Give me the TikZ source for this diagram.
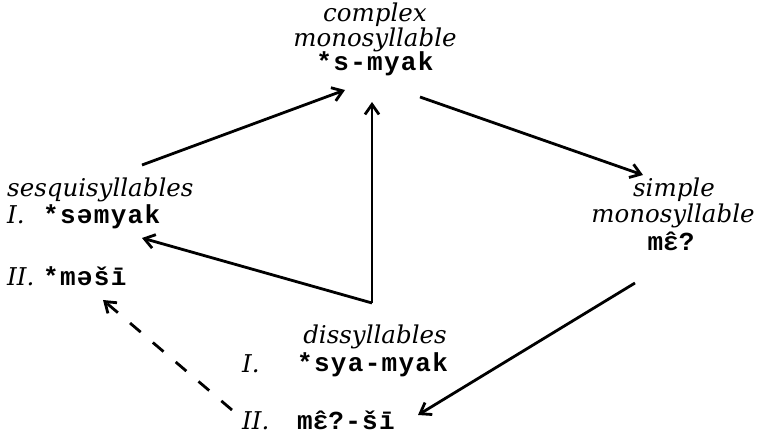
\documentclass[tikz,border=0pt]{standalone}
\usepackage{fontspec}
\setmainfont{DejaVu Serif}
\newfontfamily\typefont[LetterSpace=5]{Liberation Mono}
\usepackage{tikz}
\usetikzlibrary{positioning, calc, arrows.meta}
% open e with circumflex, set by overlay
\newcommand{\ehat}{\ooalign{ɛ\cr ˆ\cr}}

\begin{document}
\begin{tikzpicture}[x=1pt, y=-1pt, >={Straight Barb[length=10pt,width=14pt,line width=2.8pt]},
    lab/.style={font=\fontsize{24.5}{26}\selectfont\itshape, inner sep=1pt, anchor=base},
    form/.style={font=\fontsize{26}{28}\selectfont\typefont\bfseries, inner sep=1pt, anchor=base},
    arr/.style={->, line width=2.8pt},
    dasharr/.style={->, line width=2.8pt, dash pattern=on 14pt off 16pt}]

    \useasboundingbox (0,0) rectangle (763,435);

    % --- Top: complex monosyllable ---
    \node[lab] (cpx) at (375,22) {complex};
    \node[lab] (cmono) at (375,47) {monosyllable};
    \node[form] (smyak) at (375,71) {*s-myak};

    % --- Left: sesquisyllables ---
    \node[lab, anchor=base west] (sesq) at (6,197) {sesquisyllables};
    \node[lab, anchor=base west] (sI) at (6,224) {I.};
    \node[form, anchor=base west] (semyak) at (42,224) {*səmyak};
    \node[lab, anchor=base west] (sII) at (6,286) {II.};
    \node[form, anchor=base west] (mesi) at (42,286) {*məšī};

    % --- Right: simple monosyllable ---
    \node[lab] (simp) at (674,197) {simple};
    \node[lab] (smono) at (673,223) {monosyllable};
    \node[form] (meq) at (671,251) {m\ehat?};

    % --- Bottom: dissyllables ---
    \node[lab] (dis) at (375,344) {dissyllables};
    \node[lab, anchor=base west] (dI) at (241,373) {I.};
    \node[form, anchor=base west] (syamyak) at (296,372) {*sya-myak};
    \node[lab, anchor=base west] (dII) at (241,429) {II.};
    \node[form, anchor=base west] (meqsi) at (296,429) {m\ehat?-šī};

    % --- Arrows ---
    \coordinate (fork) at ([xshift=-3pt,yshift=41pt]dis.base);
    \draw[arr] ([xshift=136pt,yshift=32pt]sesq.base west) -- ([xshift=-30pt,yshift=-19pt]smyak.base);
    \draw[arr] (fork) -- ([xshift=-3pt,yshift=-31pt]smyak.base);
    \draw[arr] (fork) -- ([xshift=100pt,yshift=-14pt]semyak.base west);
    \draw[arr] ([xshift=45pt,yshift=-26pt]smyak.base) -- ([xshift=-31pt,yshift=22pt]simp.base);
    \draw[arr] ([xshift=-36pt,yshift=-32pt]meq.base) -- ([xshift=122pt,yshift=14pt]meqsi.base west);
    \draw[dasharr] ([xshift=-9pt,yshift=19pt]dII.base west) -- ([xshift=61pt,yshift=-14pt]mesi.base west);

\end{tikzpicture}
\end{document}
